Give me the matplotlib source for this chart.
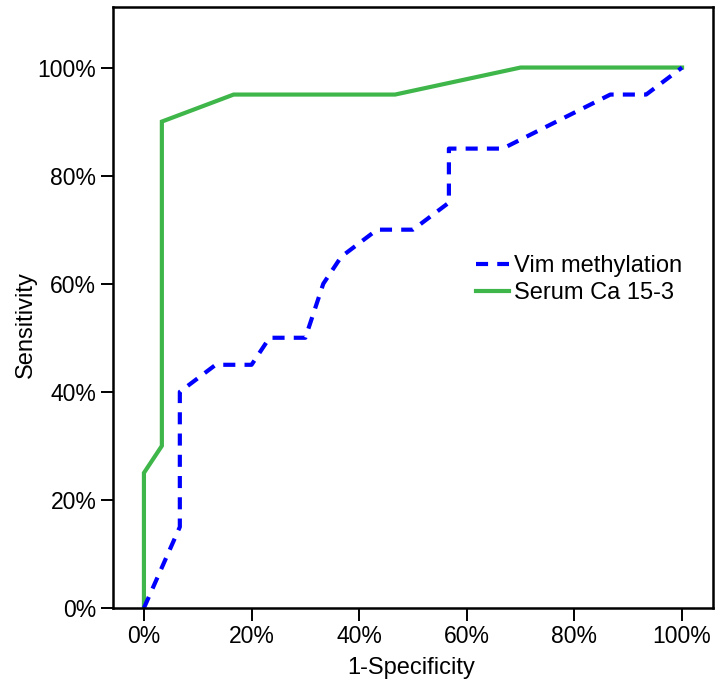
import matplotlib
matplotlib.use('Agg')
import matplotlib.pyplot as plt
from matplotlib.ticker import FuncFormatter

plt.rcParams['font.family'] = ['Liberation Sans', 'DejaVu Sans']

# ROC points, in percent
vim_fpr = [0, 6.67, 6.67, 13.33, 20, 23.33, 30, 33.33, 36.67, 43.33, 50, 56.67, 56.67, 66.67, 86.67, 93.33, 100]
vim_sens = [0, 15, 40, 45, 45, 50, 50, 60, 65, 70, 70, 75, 85, 85, 95, 95, 100]

ca_fpr = [0, 0, 3.33, 3.33, 16.67, 46.67, 70, 100]
ca_sens = [0, 25, 30, 90, 95, 95, 100, 100]

ticks = [0, 20, 40, 60, 80, 100]

fig = plt.figure(figsize=(7.17, 6.82), dpi=100)
ax = fig.add_axes([113/717, 74/682, 600/717, 601/682])

g, = ax.plot(ca_fpr, ca_sens, color='#3fb649', lw=3, solid_joinstyle='miter', label='Serum Ca 15-3')
b, = ax.plot(vim_fpr, vim_sens, color='#0000ff', lw=3, dashes=(2.9, 2.2), label='Vim methylation')

ax.set_xlim(-5.75, 105.75)
ax.set_ylim(0, 111.2)
ax.set_xticks(ticks)
ax.set_yticks(ticks)
pct = FuncFormatter(lambda v, p: '%d%%' % v)
ax.xaxis.set_major_formatter(pct)
ax.yaxis.set_major_formatter(pct)
ax.tick_params(direction='out', length=9, width=1.4, labelsize=16.5, pad=3, colors='black')

for s in ax.spines.values():
    s.set_linewidth(1.8)

ax.set_xlabel('1-Specificity', fontsize=17)
ax.set_ylabel('Sensitivity', fontsize=17)
ax.xaxis.set_label_coords(0.497, -0.082)
ax.yaxis.set_label_coords(-0.127, 0.471)

ax.legend(handles=[b, g], loc='upper left', bbox_to_anchor=(0.605, 0.587),
          frameon=False, fontsize=17, handlelength=1.4, handletextpad=0.22,
          labelspacing=0.2, borderaxespad=0, borderpad=0)

fig.savefig('out.png', dpi=100)
